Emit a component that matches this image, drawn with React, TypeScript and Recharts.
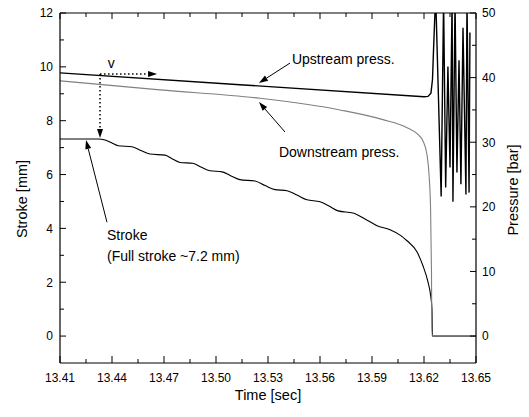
import React from 'react';
import { ComposedChart, Line, XAxis, YAxis, ReferenceLine, ReferenceDot, Label } from 'recharts';

const FONT = '"Liberation Sans", Arial, sans-serif';

// axis ticks
const timeMajor = [13.41, 13.44, 13.47, 13.5, 13.53, 13.56, 13.59, 13.62, 13.65];
const timeMinor = [13.425, 13.455, 13.485, 13.515, 13.545, 13.575, 13.605, 13.635];
const strokeMajor = [0, 2, 4, 6, 8, 10, 12];
const strokeMinor = [1, 3, 5, 7, 9, 11];
const pressMajor = [0, 10, 20, 30, 40, 50];
const pressMinor = [5, 15, 25, 35, 45];

// [time sec, stroke mm]
const strokeData: [number, number][] = [
  [13.41, 7.32], [13.4319, 7.32], [13.436, 7.28], [13.44, 7.17], [13.4435, 7.07],
  [13.4515, 7.03], [13.4567, 6.89], [13.4619, 6.76], [13.4706, 6.72], [13.4746, 6.59],
  [13.4792, 6.45], [13.4867, 6.42], [13.4913, 6.28], [13.4965, 6.14], [13.5035, 6.1],
  [13.5087, 5.95], [13.5138, 5.81], [13.5225, 5.76], [13.5283, 5.59], [13.534, 5.44],
  [13.541, 5.4], [13.5467, 5.24], [13.5525, 5.06], [13.56, 4.99], [13.5652, 4.83],
  [13.5704, 4.65], [13.579, 4.57], [13.586, 4.35], [13.5929, 4.1], [13.6004, 3.95],
  [13.6062, 3.75], [13.6102, 3.54], [13.616, 3.12], [13.6194, 2.61], [13.6223, 2.01],
  [13.6238, 1.52], [13.6246, 1.0], [13.6249, 0], [13.65, 0],
];

// [time sec, pressure bar]
const upstreamData: [number, number][] = [
  [13.41, 40.74], [13.5138, 38.9], [13.62, 37.04], [13.6223, 37.1], [13.624, 37.6],
  [13.6249, 39.7], [13.6255, 44.3], [13.6263, 50], [13.6268, 52], [13.6299, 21.6],
  [13.6313, 52], [13.6325, 23], [13.6338, 41.7], [13.635, 26.1], [13.6362, 52],
  [13.6367, 20.8], [13.6379, 52], [13.639, 25.3], [13.6402, 42.7], [13.6413, 23.5],
  [13.6425, 47.7], [13.6442, 21.9], [13.6448, 52], [13.646, 22.2], [13.6465, 47],
];

const downstreamData: [number, number][] = [
  [13.41, 39.5], [13.4677, 38.1], [13.5254, 36.8], [13.5715, 35.0], [13.5963, 33.5],
  [13.6102, 32.25], [13.6165, 31.2], [13.6194, 30.2], [13.6217, 28.1], [13.6229, 25.0],
  [13.6238, 19.6], [13.6243, 10.3], [13.6246, 0], [13.65, 0],
];

// annotation arrows, in [time, stroke mm]
const arrowV: [number, number][] = [[13.4331, 9.73], [13.466, 9.73]];
const arrowDown: [number, number][] = [[13.4331, 9.73], [13.4331, 7.36]];
const arrowUp: [number, number][] = [[13.5427, 10.14], [13.5248, 9.4]];
const arrowDn: [number, number][] = [[13.5398, 7.58], [13.5248, 8.69]];
const arrowStroke: [number, number][] = [[13.4371, 4.23], [13.425, 7.28]];

const toRows = (d: [number, number][]) => d.map(([t, v]) => ({ t, v }));

const isMajor = (v: number, majors: number[]) => majors.some((m) => Math.abs(m - v) < 1e-6);

const txt = { fontFamily: FONT, fill: '#000' };

const LeftTick = ({ x, y, payload }: any) => {
  const major = isMajor(payload.value, strokeMajor);
  return (
    <g>
      <line x1={x} x2={x + (major ? 6 : 4)} y1={y} y2={y} stroke="#000" />
      {major && (
        <text x={x - 7} y={y} dy="0.36em" textAnchor="end" fontSize={12} {...txt}>
          {payload.value}
        </text>
      )}
    </g>
  );
};

const RightTick = ({ x, y, payload }: any) => {
  const major = isMajor(payload.value, pressMajor);
  return (
    <g>
      <line x1={x} x2={x - (major ? 6 : 4)} y1={y} y2={y} stroke="#000" />
      {major && (
        <text x={x + 6} y={y} dy="0.36em" textAnchor="start" fontSize={12} {...txt}>
          {payload.value}
        </text>
      )}
    </g>
  );
};

const BottomTick = ({ x, y, payload }: any) => {
  const major = isMajor(payload.value, timeMajor);
  return (
    <g>
      <line x1={x} x2={x} y1={y} y2={y - (major ? 7 : 4)} stroke="#000" />
      {major && (
        <text x={x} y={y + 15} dy="0.36em" textAnchor="middle" fontSize={12} {...txt}>
          {payload.value.toFixed(2)}
        </text>
      )}
    </g>
  );
};

const TopTick = ({ x, y, payload }: any) => {
  const major = isMajor(payload.value, timeMajor);
  return <line x1={x} x2={x} y1={y} y2={y + (major ? 6 : 4)} stroke="#000" />;
};

const arrowShape = (dotted: boolean) => (p: any) => {
  const { x1, y1, x2, y2 } = p;
  const ang = Math.atan2(y2 - y1, x2 - x1);
  const L = 9;
  const W = 3;
  const bx = x2 - L * Math.cos(ang);
  const by = y2 - L * Math.sin(ang);
  const px = -Math.sin(ang) * W;
  const py = Math.cos(ang) * W;
  return (
    <g>
      <line
        x1={x1} y1={y1} x2={bx} y2={by} stroke="#000"
        strokeWidth={dotted ? 1.5 : 1}
        strokeDasharray={dotted ? '1.5 2.5' : undefined}
      />
      <polygon points={`${x2},${y2} ${bx + px},${by + py} ${bx - px},${by - py}`} fill="#000" />
    </g>
  );
};

const seg = (a: [number, number][]) => a.map(([x, y]) => ({ x, y }));

const note = (s: string) => (p: any) => (
  <text x={p.cx} y={p.cy} dy="0.36em" fontSize={14} {...txt}>
    {s}
  </text>
);

const title = (s: string, dx: number, dy: number, rot: number) => (p: any) => {
  const vb = p.viewBox;
  const cx = vb.x + dx;
  const cy = vb.y + dy;
  return (
    <text x={cx} y={cy} textAnchor="middle" dy="0.36em" fontSize={14.5} {...txt}
      transform={rot ? `rotate(${rot} ${cx} ${cy})` : undefined}>
      {s}
    </text>
  );
};

export default function App() {
  const timeTicks = [...timeMajor, ...timeMinor].sort((a, b) => a - b);
  const strokeTicks = [...strokeMajor, ...strokeMinor].sort((a, b) => a - b);
  const pressTicks = [...pressMajor, ...pressMinor].sort((a, b) => a - b);

  return (
    <div style={{ position: 'absolute', left: 0, top: 0, width: 529, height: 417, background: '#fff' }}>
      <ComposedChart width={529} height={417} margin={{ top: 0, right: 0, bottom: 0, left: 0 }}>
        <XAxis
          dataKey="t" type="number" domain={[13.41, 13.65]} allowDataOverflow
          ticks={timeTicks} interval={0} height={54} tickSize={0} tickMargin={0}
          tickLine={false} tick={BottomTick} axisLine={{ stroke: '#000', strokeWidth: 1.2 }}
        >
          <Label content={title('Time [sec]', 208, 32, 0)} />
        </XAxis>
        <XAxis
          xAxisId="top" orientation="top" dataKey="t" type="number" domain={[13.41, 13.65]}
          allowDataOverflow ticks={timeTicks} interval={0} height={13} tickSize={0}
          tickMargin={0} tickLine={false} tick={TopTick} axisLine={{ stroke: '#000', strokeWidth: 1.2 }}
        />
        <YAxis
          yAxisId="l" type="number" domain={[-1, 12]} allowDataOverflow ticks={strokeTicks}
          interval={0} width={60} tickSize={0} tickMargin={0} tickLine={false} tick={LeftTick}
          axisLine={{ stroke: '#000', strokeWidth: 1.2 }}
        >
          <Label content={title('Stroke [mm]', 22, 186, -90)} />
        </YAxis>
        <YAxis
          yAxisId="r" orientation="right" type="number" domain={[-50 / 12, 50]} allowDataOverflow
          ticks={pressTicks} interval={0} width={53} tickSize={0} tickMargin={0} tickLine={false}
          tick={RightTick} axisLine={{ stroke: '#000', strokeWidth: 1.2 }}
        >
          <Label content={title('Pressure [bar]', 37, 177, -90)} />
        </YAxis>

        <Line
          yAxisId="l" data={toRows(strokeData)} dataKey="v" type="monotone" stroke="#000"
          strokeWidth={1.1} dot={false} activeDot={false} isAnimationActive={false}
        />
        <Line
          yAxisId="r" data={toRows(upstreamData)} dataKey="v" type="linear" stroke="#000"
          strokeWidth={1.4} dot={false} activeDot={false} isAnimationActive={false}
        />
        <Line
          yAxisId="r" data={toRows(downstreamData)} dataKey="v" type="monotone" stroke="#808080"
          strokeWidth={1.1} dot={false} activeDot={false} isAnimationActive={false}
        />

        <ReferenceLine yAxisId="l" segment={seg(arrowV)} shape={arrowShape(true)} ifOverflow="visible" />
        <ReferenceLine yAxisId="l" segment={seg(arrowDown)} shape={arrowShape(true)} ifOverflow="visible" />
        <ReferenceLine yAxisId="l" segment={seg(arrowUp)} shape={arrowShape(false)} ifOverflow="visible" />
        <ReferenceLine yAxisId="l" segment={seg(arrowDn)} shape={arrowShape(false)} ifOverflow="visible" />
        <ReferenceLine yAxisId="l" segment={seg(arrowStroke)} shape={arrowShape(false)} ifOverflow="visible" />

        <ReferenceDot yAxisId="l" x={13.4375} y={10.15} r={0} shape={note('v')} ifOverflow="visible" />
        <ReferenceDot yAxisId="l" x={13.5438} y={10.29} r={0} shape={note('Upstream press.')} ifOverflow="visible" />
        <ReferenceDot yAxisId="l" x={13.5363} y={6.84} r={0} shape={note('Downstream press.')} ifOverflow="visible" />
        <ReferenceDot yAxisId="l" x={13.4371} y={3.75} r={0} shape={note('Stroke')} ifOverflow="visible" />
        <ReferenceDot yAxisId="l" x={13.4371} y={2.97} r={0} shape={note('(Full stroke ~7.2 mm)')} ifOverflow="visible" />
      </ComposedChart>
    </div>
  );
}
